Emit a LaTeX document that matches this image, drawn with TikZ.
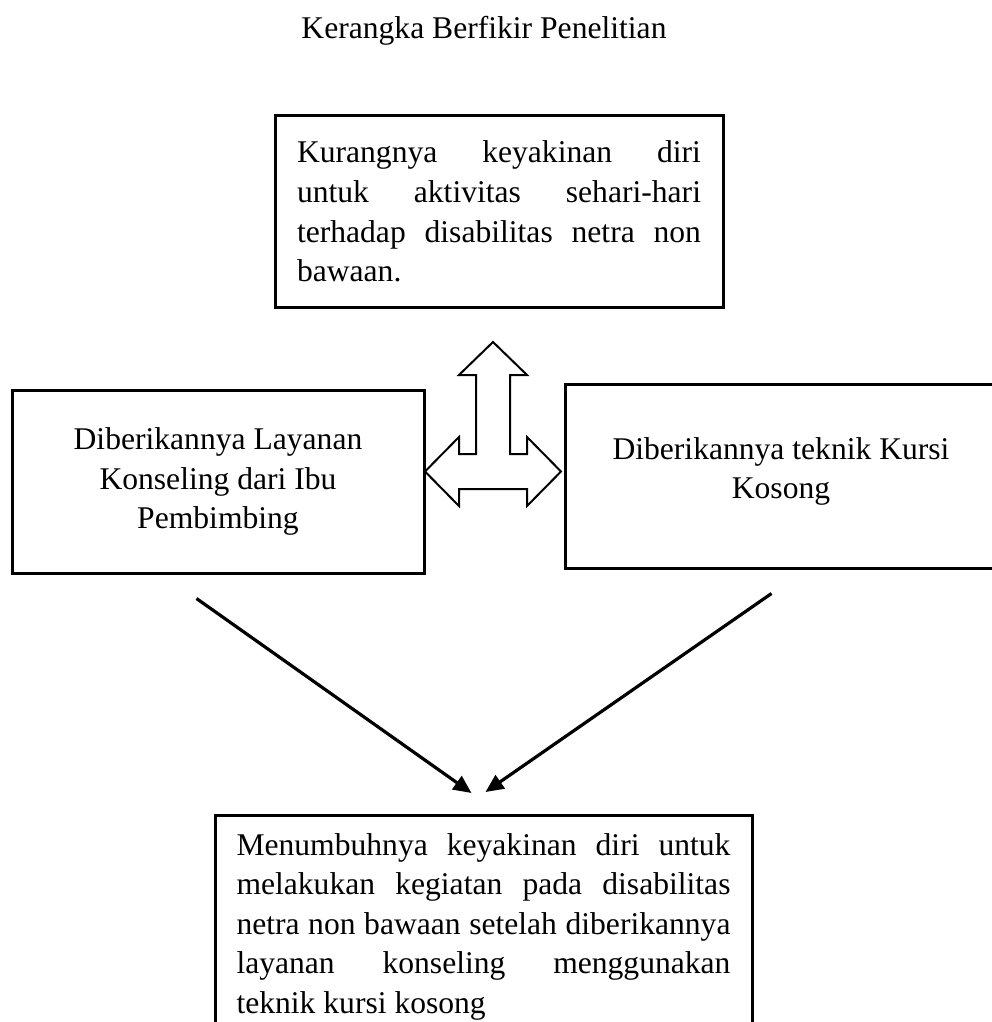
\documentclass[tikz,border=0pt]{standalone}
\usepackage{fontspec}
\setmainfont{Liberation Serif}
\usetikzlibrary{arrows.meta,positioning}

\begin{document}
\begin{tikzpicture}[>={Triangle[length=9pt,width=8pt]},x=0.5pt,y=-0.5pt,
  font=\fontsize{15.8}{19.8}\selectfont,
  kotak/.style={draw,rectangle,line width=1.5pt,inner sep=0pt},
  rata/.style={align=justify,execute at begin node={\tolerance=10000\hbadness=10000\hyphenpenalty=10000}}]
  \useasboundingbox (0,0) rectangle (991,1022);
  \node[anchor=base] (judul) at (484,39) {Kerangka Berfikir Penelitian};
  \node[kotak,rata,minimum width=224pt,minimum height=95.5pt,text width=202pt] (masalah) at (499,211.5)
    {Kurangnya keyakinan diri\linebreak untuk aktivitas sehari-hari\linebreak terhadap disabilitas netra non\linebreak bawaan.};
  \node[kotak,align=center,minimum width=206pt,minimum height=91.5pt] (layanan) at (218,481.5)
    {Diberikannya Layanan\\Konseling dari Ibu\\Pembimbing};
  \node[kotak,align=center,minimum width=216pt,minimum height=92pt,text depth=8pt] (teknik) at (781,476)
    {Diberikannya teknik Kursi\\Kosong};
  \node[kotak,rata,anchor=north,minimum width=268.5pt,text width=247pt,inner ysep=8.8pt] (hasil) at (483.5,814)
    {Menumbuhnya keyakinan diri untuk\linebreak melakukan kegiatan pada disabilitas\linebreak netra non bawaan setelah diberikannya\linebreak layanan konseling menggunakan\linebreak teknik kursi kosong};
  % panah tiga arah
  \draw[line width=1pt,line join=miter] (493,342) -- (527,375) -- (510,375) -- (510,454) -- (527,454) -- (527,437)
    -- (561,471.5) -- (527,506) -- (527,489) -- (459,489) -- (459,506) -- (425,471.5) -- (459,437)
    -- (459,454) -- (476,454) -- (476,375) -- (459,375) -- cycle;
  \coordinate[below left=12pt and 114.5pt of layanan.south east] (pangkalkiri);
  \coordinate[below right=12pt and 104pt of teknik.south west] (pangkalkanan);
  \coordinate[above=10.5pt of hasil.north, xshift=-6pt] (ujungkiri);
  \coordinate[above=11pt of hasil.north, xshift=1pt] (ujungkanan);
  \path[->,line width=1.6pt]
    (pangkalkiri) edge (ujungkiri)
    (pangkalkanan) edge (ujungkanan);
\end{tikzpicture}
\end{document}
